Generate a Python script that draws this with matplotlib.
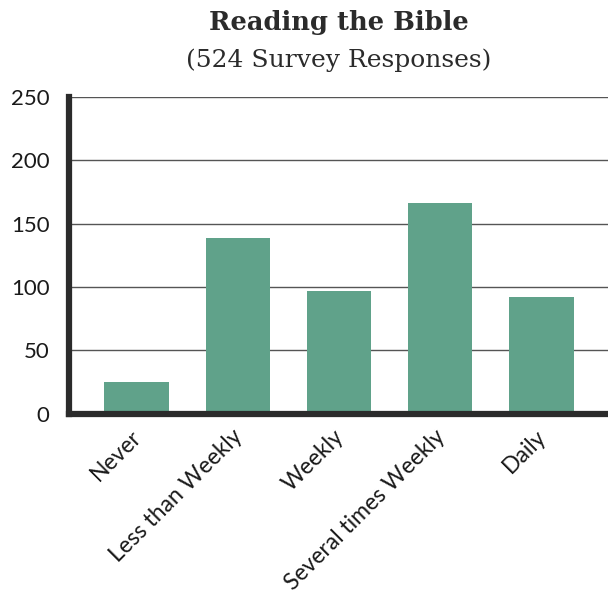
import matplotlib
matplotlib.use("Agg")
import matplotlib.pyplot as plt
import matplotlib.transforms as mtransforms

categories = ["Never", "Less than Weekly", "Weekly", "Several times Weekly", "Daily"]
values = [25, 139, 97, 166, 92]
yticks = [0, 50, 100, 150, 200, 250]

fig = plt.figure(figsize=(6.08, 5.96), dpi=100)
ax = fig.add_axes([0.1135, 0.306, 0.8865, 0.531])

x = list(range(len(categories)))
ax.bar(x, values, width=0.64, color="#60a28a", zorder=3)

ax.set_xlim(-0.67, 4.66)
ax.set_ylim(0, 250)
ax.set_yticks(yticks)
ax.set_yticklabels([str(v) for v in yticks], fontsize=16, family="Lato", color="#1a1a1a")
ax.set_xticks(x)
ax.set_xticklabels(categories, rotation=45, ha="right", rotation_mode="anchor",
                   fontsize=16.5, family="Lato", color="#1a1a1a")
ax.tick_params(axis="y", length=0, pad=14)
ax.tick_params(axis="x", length=0, pad=9)

offset = mtransforms.ScaledTranslation(-6 / 100, 0, fig.dpi_scale_trans)
for lbl in ax.get_xticklabels():
    lbl.set_transform(lbl.get_transform() + offset)

ax.grid(axis="y", color="#555555", linewidth=1.0, zorder=0)
ax.set_axisbelow(True)
for s in ["top", "right"]:
    ax.spines[s].set_visible(False)
for s in ["left", "bottom"]:
    ax.spines[s].set_linewidth(4.5)
    ax.spines[s].set_color("#2b2b2b")
    ax.spines[s].set_zorder(4)

fig.text(0.557, 0.963, "Reading the Bible", ha="center", va="center",
         fontsize=18.5, fontweight="bold", family="DejaVu Serif", color="#2b2b2b")
fig.text(0.557, 0.899, "(524 Survey Responses)", ha="center", va="center",
         fontsize=18, family="DejaVu Serif", color="#2b2b2b")

fig.savefig("out.png", dpi=100)
